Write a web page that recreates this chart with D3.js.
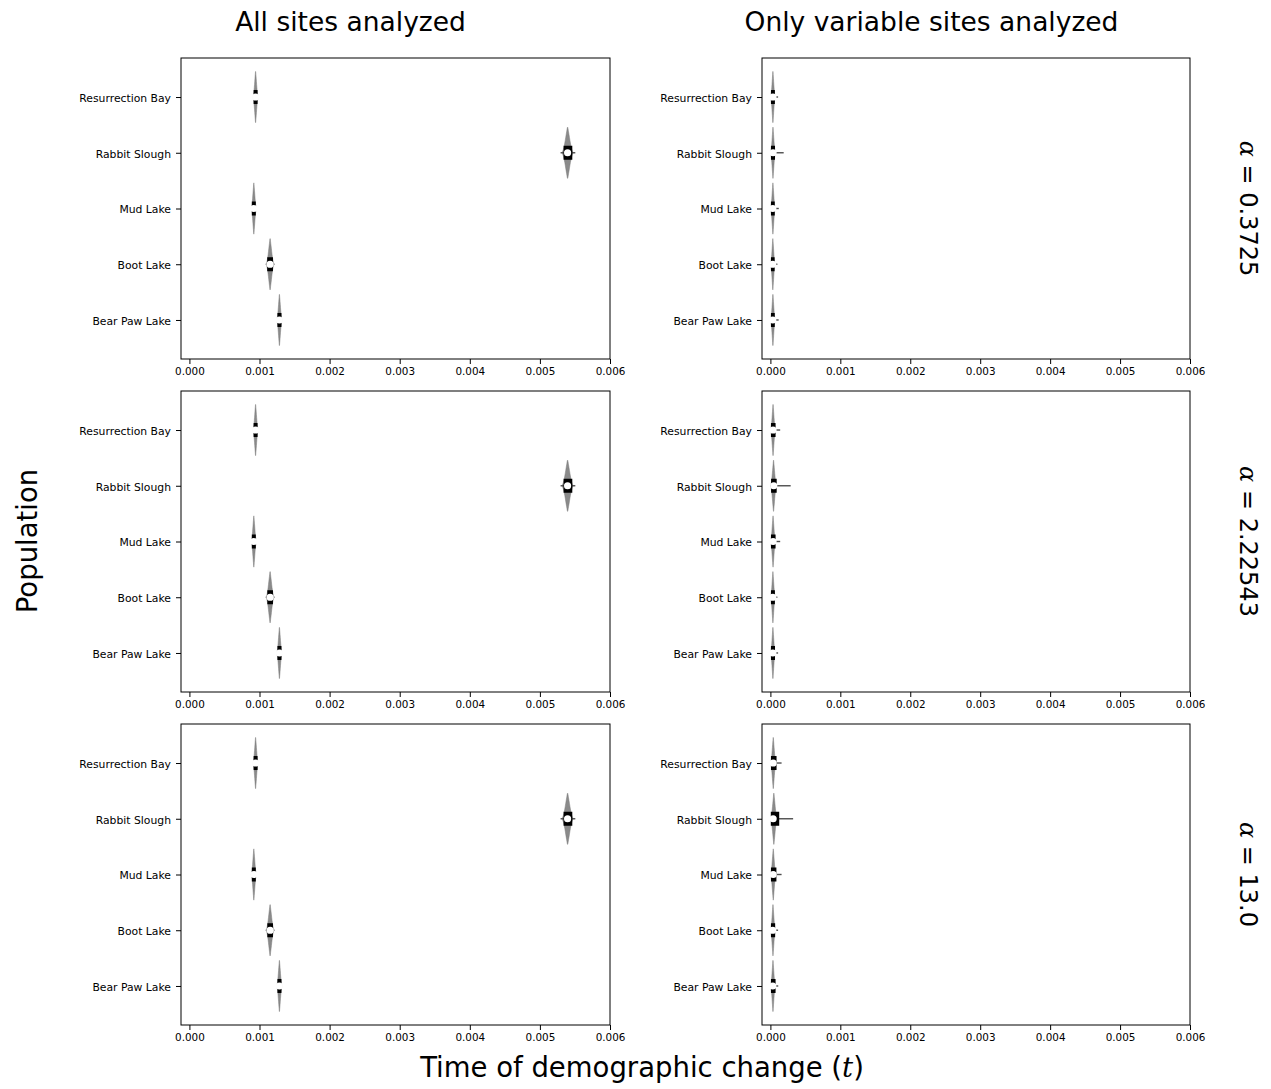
<!DOCTYPE html>
<html>
<head>
<meta charset="utf-8">
<script src="https://cdn.jsdelivr.net/npm/d3@7"></script>
<style>
  body { margin: 0; background: #fff; }
  svg { display: block; }
</style>
</head>
<body>
<svg id="chart" width="1271" height="1089"></svg>
<script>
// ---------------- DATA ----------------
const populations = ["Resurrection Bay", "Rabbit Slough", "Mud Lake", "Boot Lake", "Bear Paw Lake"];
const columnTitles = ["All sites analyzed", "Only variable sites analyzed"];
const alphaValues = ["0.3725", "2.22543", "13.0"];
const xTickValues = [0, 0.001, 0.002, 0.003, 0.004, 0.005, 0.006];
const xTickLabels = ["0.000", "0.001", "0.002", "0.003", "0.004", "0.005", "0.006"];
const xTitle = "Time of demographic change (";
const yTitle = "Population";

// relative violin density profile across each violin's range (read from shapes)
const violinProfile = [0, 0.08, 0.2, 0.38, 0.6, 0.82, 1, 0.82, 0.6, 0.38, 0.2, 0.08, 0];

// "All sites analyzed" column, one row per alpha
const allMedian = [
  [0.000944, 0.005395, 0.000919, 0.001151, 0.001284],
  [0.000944, 0.005395, 0.000919, 0.001152, 0.001285],
  [0.000944, 0.005395, 0.000920, 0.001152, 0.001284]
];
const allQ1 = [
  [0.000916, 0.005338, 0.000891, 0.001110, 0.001256],
  [0.000916, 0.005338, 0.000891, 0.001112, 0.001256],
  [0.000916, 0.005338, 0.000891, 0.001112, 0.001256]
];
const allQ3 = [
  [0.000972, 0.005462, 0.000947, 0.001192, 0.001313],
  [0.000972, 0.005462, 0.000947, 0.001192, 0.001313],
  [0.000972, 0.005462, 0.000947, 0.001192, 0.001313]
];
const allLo = [
  [0.000908, 0.005315, 0.000883, 0.001095, 0.001247],
  [0.000908, 0.005315, 0.000883, 0.001095, 0.001247],
  [0.000908, 0.005315, 0.000883, 0.001095, 0.001247]
];
const allHi = [
  [0.000980, 0.005475, 0.000955, 0.001207, 0.001321],
  [0.000980, 0.005475, 0.000955, 0.001207, 0.001321],
  [0.000980, 0.005475, 0.000955, 0.001207, 0.001321]
];
const allWhiskerLo = [
  [0.000905, 0.005295, 0.000880, 0.001090, 0.001242],
  [0.000905, 0.005295, 0.000880, 0.001090, 0.001242],
  [0.000905, 0.005295, 0.000880, 0.001090, 0.001242]
];
const allWhiskerHi = [
  [0.000985, 0.005505, 0.000960, 0.001212, 0.001326],
  [0.000985, 0.005505, 0.000960, 0.001212, 0.001326],
  [0.000985, 0.005505, 0.000960, 0.001212, 0.001326]
];

// "Only variable sites analyzed" column, one row per alpha
const varMedian = [
  [0.000036, 0.000038, 0.000034, 0.000033, 0.000034],
  [0.000038, 0.000048, 0.000038, 0.000034, 0.000035],
  [0.000040, 0.000039, 0.000040, 0.000033, 0.000034]
];
const varQ1 = [
  [0.000008, 0.000008, 0.000008, 0.000008, 0.000008],
  [0.000008, 0.000010, 0.000008, 0.000008, 0.000008],
  [0.000008, 0.000006, 0.000008, 0.000008, 0.000008]
];
const varQ3 = [
  [0.000064, 0.000066, 0.000062, 0.000060, 0.000062],
  [0.000074, 0.000090, 0.000074, 0.000064, 0.000066],
  [0.000088, 0.000126, 0.000086, 0.000068, 0.000074]
];
const varLo = [
  [0.000004, 0.000004, 0.000004, 0.000004, 0.000004],
  [0.000004, 0.000004, 0.000004, 0.000004, 0.000004],
  [0.000004, 0.000004, 0.000004, 0.000004, 0.000004]
];
const varHi = [
  [0.000068, 0.000070, 0.000068, 0.000066, 0.000068],
  [0.000072, 0.000086, 0.000072, 0.000068, 0.000068],
  [0.000078, 0.000095, 0.000078, 0.000070, 0.000070]
];
const varWhiskerLo = [
  [0.000000, 0.000000, 0.000000, 0.000000, 0.000000],
  [0.000000, 0.000000, 0.000000, 0.000000, 0.000000],
  [0.000000, 0.000000, 0.000000, 0.000000, 0.000000]
];
const varWhiskerHi = [
  [0.000110, 0.000190, 0.000120, 0.000100, 0.000118],
  [0.000140, 0.000290, 0.000140, 0.000100, 0.000110],
  [0.000160, 0.000325, 0.000160, 0.000110, 0.000112]
];

// ---------------- LAYOUT ----------------
const colX = [[181, 610], [762, 1190]];
const rowY = [[58, 359], [391, 692], [724, 1025]];
const xDomain = [-0.00012, 0.006];
const yDomain = [-0.7, 4.7];
const violinHalf = 0.46;   // in category units
const boxHalfPx = 7;
const dotR = 3.6;
const sansFont = "'DejaVu Sans', sans-serif";

const svg = d3.select("#chart");
svg.append("rect").attr("width", 1271).attr("height", 1089).attr("fill", "#fff");

const columns = [
  {median: allMedian, q1: allQ1, q3: allQ3, lo: allLo, hi: allHi, wlo: allWhiskerLo, whi: allWhiskerHi},
  {median: varMedian, q1: varQ1, q3: varQ3, lo: varLo, hi: varHi, wlo: varWhiskerLo, whi: varWhiskerHi}
];

columns.forEach((col, ci) => {
  rowY.forEach((ry, ri) => {
    const x = d3.scaleLinear().domain(xDomain).range(colX[ci]);
    const y = d3.scaleLinear().domain(yDomain).range(ry);
    const g = svg.append("g");

    const clipId = `clip-${ci}-${ri}`;
    svg.append("clipPath").attr("id", clipId).append("rect")
      .attr("x", colX[ci][0]).attr("y", ry[0])
      .attr("width", colX[ci][1] - colX[ci][0]).attr("height", ry[1] - ry[0]);
    const plot = g.append("g").attr("clip-path", `url(#${clipId})`);

    populations.forEach((p, pi) => {
      const lo = col.lo[ri][pi], hi = col.hi[ri][pi];
      const n = violinProfile.length;
      const pts = violinProfile.map((d, k) => ({v: lo + (hi - lo) * k / (n - 1), d}));
      const area = d3.area()
        .x(d => x(d.v))
        .y0(d => y(pi - violinHalf * d.d))
        .y1(d => y(pi + violinHalf * d.d))
        .curve(d3.curveMonotoneX);
      plot.append("path").attr("d", area(pts))
        .attr("fill", "#8a8a8a").attr("stroke", "#7a7a7a").attr("stroke-width", 0.5);

      // whisker
      plot.append("line")
        .attr("x1", x(col.wlo[ri][pi])).attr("x2", x(col.whi[ri][pi]))
        .attr("y1", y(pi)).attr("y2", y(pi))
        .attr("stroke", "#4d4d4d").attr("stroke-width", 1.4);

      // IQR box
      const bx0 = x(col.q1[ri][pi]), bx1 = x(col.q3[ri][pi]);
      plot.append("rect")
        .attr("x", bx0).attr("y", y(pi) - boxHalfPx)
        .attr("width", Math.max(bx1 - bx0, 1.5)).attr("height", 2 * boxHalfPx)
        .attr("fill", "#000");

      // median dot
      plot.append("circle")
        .attr("cx", x(col.median[ri][pi])).attr("cy", y(pi)).attr("r", dotR)
        .attr("fill", "#fff");
    });

    // frame
    g.append("rect")
      .attr("x", colX[ci][0]).attr("y", ry[0])
      .attr("width", colX[ci][1] - colX[ci][0]).attr("height", ry[1] - ry[0])
      .attr("fill", "none").attr("stroke", "#000").attr("stroke-width", 1);

    // x axis
    const xa = g.append("g").attr("transform", `translate(0,${ry[1]})`)
      .call(d3.axisBottom(x).tickValues(xTickValues)
        .tickFormat((d, i) => xTickLabels[i]).tickSize(5).tickPadding(4));
    xa.select(".domain").remove();
    xa.selectAll("text").attr("font-family", sansFont).attr("font-size", 10.4).attr("fill", "#000");
    xa.selectAll("line").attr("stroke", "#000");

    // y axis
    const ya = g.append("g").attr("transform", `translate(${colX[ci][0]},0)`)
      .call(d3.axisLeft(y).tickValues(d3.range(populations.length))
        .tickFormat(i => populations[i]).tickSize(5).tickPadding(5));
    ya.select(".domain").remove();
    ya.selectAll("text").attr("font-family", sansFont).attr("font-size", 10.8).attr("fill", "#000")
      .attr("dy", "0.4em");
    ya.selectAll("line").attr("stroke", "#000");
  });
});

// column titles
const titleX = [350.5, 931.5];
columnTitles.forEach((t, i) => {
  svg.append("text").attr("x", titleX[i]).attr("y", 31)
    .attr("text-anchor", "middle").attr("font-family", sansFont).attr("font-size", 26.5)
    .attr("fill", "#000").text(t);
});

// y title
svg.append("text").attr("transform", "translate(37,541) rotate(-90)")
  .attr("text-anchor", "middle").attr("font-family", sansFont).attr("font-size", 27.5)
  .attr("fill", "#000").text(yTitle);

// x title
const xt = svg.append("text").attr("x", 642).attr("y", 1077)
  .attr("text-anchor", "middle").attr("font-family", sansFont).attr("font-size", 27.5).attr("fill", "#000");
xt.append("tspan").text(xTitle);
xt.append("tspan").attr("font-family", "'DejaVu Serif', serif").attr("font-style", "italic").text("t");
xt.append("tspan").text(")");

// alpha labels
rowY.forEach((ry, i) => {
  const cy = (ry[0] + ry[1]) / 2;
  const at = svg.append("text").attr("transform", `translate(1240,${cy}) rotate(90)`)
    .attr("text-anchor", "middle").attr("font-family", sansFont).attr("font-size", 24).attr("fill", "#000");
  at.append("tspan").attr("font-family", "'DejaVu Serif', serif").attr("font-style", "italic").text("α");
  at.append("tspan").text(" = " + alphaValues[i]);
});
</script>
</body>
</html>
